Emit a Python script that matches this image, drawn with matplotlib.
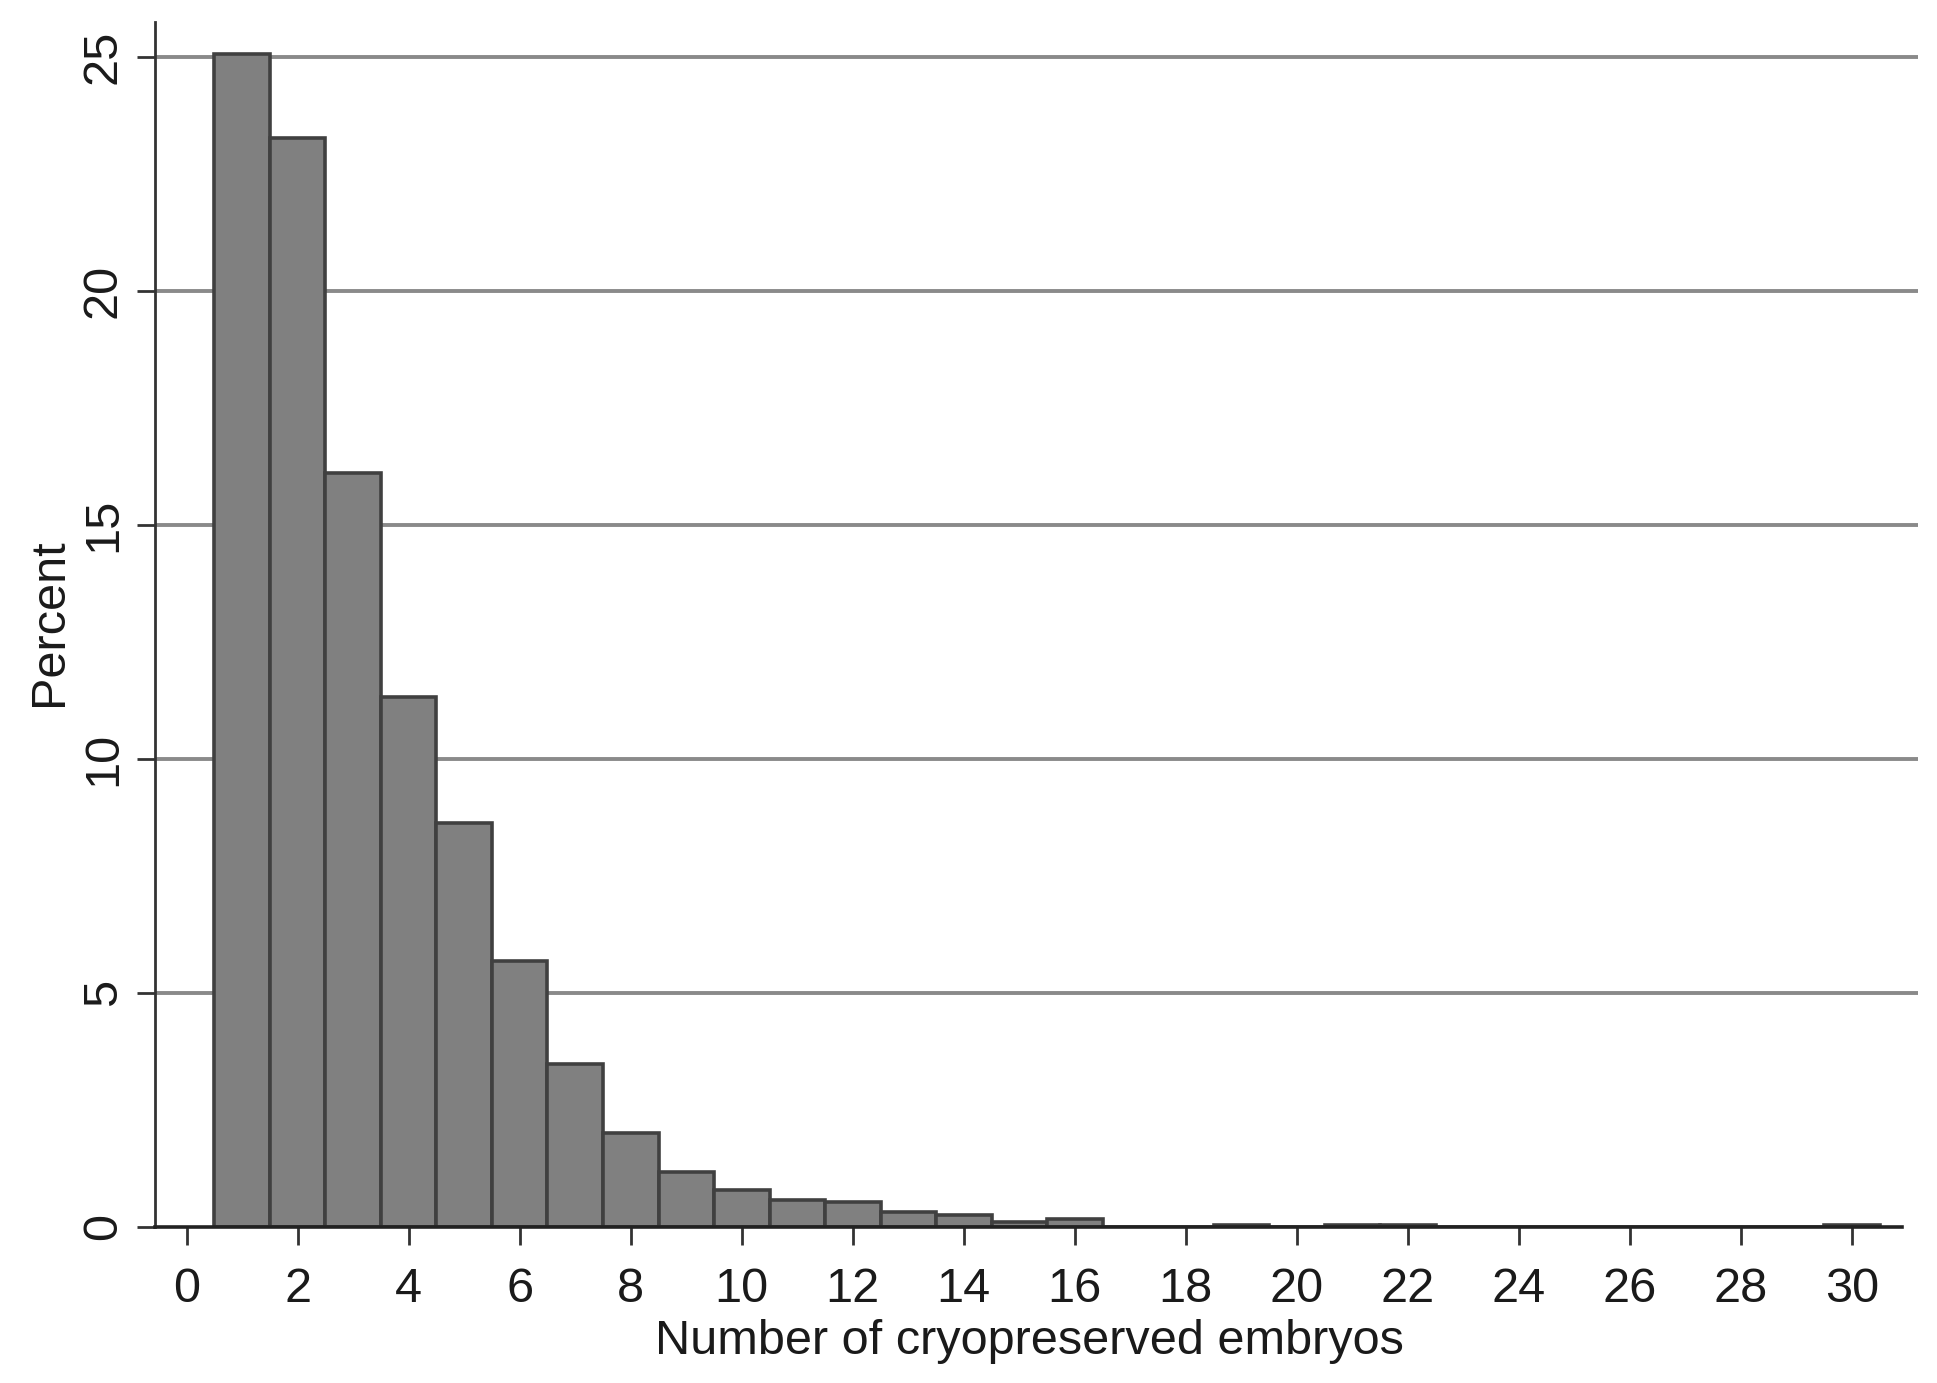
import matplotlib
matplotlib.use("Agg")
import matplotlib.pyplot as plt

embryos = list(range(1, 31))
percent = [25.07, 23.27, 16.11, 11.33, 8.63, 5.67, 3.48, 2.00, 1.16, 0.78,
           0.57, 0.52, 0.31, 0.25, 0.10, 0.16, 0.0, 0.0, 0.04, 0.0,
           0.04, 0.04, 0.0, 0.0, 0.0, 0.0, 0.0, 0.0, 0.0, 0.04]
xticks = list(range(0, 31, 2))
yticks = [0, 5, 10, 15, 20, 25]

plt.rcParams['font.family'] = ['Liberation Sans', 'DejaVu Sans']

fig = plt.figure(figsize=(19.37, 13.83), dpi=100)
# axes: left 155px, right 1918px, bottom 1226.7px, top 22px
ax = fig.add_axes([155 / 1937, 1 - 1226.7 / 1383, (1918 - 155) / 1937, (1226.7 - 22) / 1383])

for y in yticks[1:]:
    ax.axhline(y, color="#8a8a8a", lw=2.8, zorder=0)

ax.bar(embryos, percent, width=1.0, color="#808080", edgecolor="#404040",
       linewidth=2.6, zorder=2)

ax.set_xlim(-0.571, 31.19)
ax.set_ylim(0, 25.75)
ax.set_xticks(xticks)
ax.set_yticks(yticks)
ax.set_yticklabels([str(v) for v in yticks], rotation=90, va="center")
ax.tick_params(axis="both", direction="out", length=13, width=2, color="#333333",
               labelsize=35, labelcolor="#1a1a1a")
ax.tick_params(axis="x", pad=16)
ax.tick_params(axis="y", pad=8)

for s in ["top", "right"]:
    ax.spines[s].set_visible(False)
ax.spines["left"].set_linewidth(2)
ax.spines["bottom"].set_linewidth(2.6)
ax.spines["bottom"].set_bounds(-0.571, 30.9)
ax.spines["left"].set_color("#333333")
ax.spines["bottom"].set_color("#222222")

ax.set_xlabel("Number of cryopreserved embryos", fontsize=35, color="#1a1a1a")
ax.xaxis.set_label_coords(0.496, -0.077)
ax.set_ylabel("Percent", fontsize=35, color="#1a1a1a")
ax.yaxis.set_label_coords(-0.047, 0.502)

fig.savefig("out.png", dpi=100)
